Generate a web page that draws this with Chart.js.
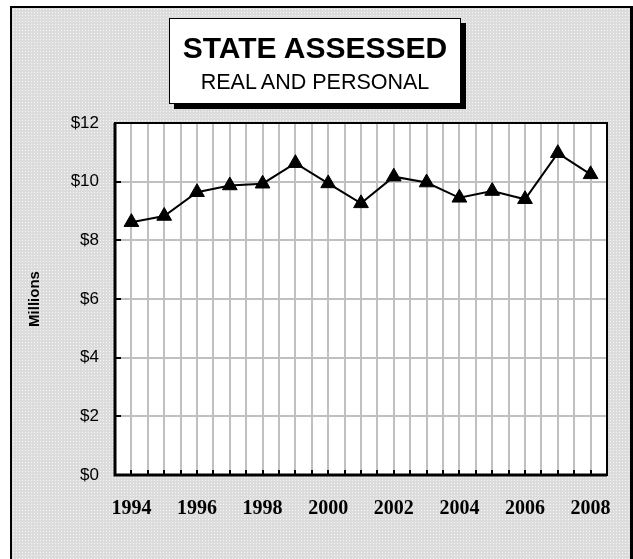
<!DOCTYPE html>
<html>
<head>
<meta charset="utf-8">
<script src="https://cdn.jsdelivr.net/npm/chart.js@4/dist/chart.umd.min.js"></script>
<style>
  html, body { margin: 0; padding: 0; background: #fff; }
  body { width: 633px; height: 559px; position: relative; overflow: hidden; }
  #frame {
    position: absolute; left: 10px; top: 6px; width: 618px; height: 570px;
    border: 2px solid #000; border-right-width: 3px;
    background: #dcdcdc radial-gradient(circle, #f6f6f6 0.7px, transparent 1px) 0 0 / 3px 3px;
  }
  #chart { position: absolute; left: 0; top: 0; }
  #titleBox {
    position: absolute; left: 169px; top: 18px; width: 290px; height: 84px;
    background: #fff; border: 1.5px solid #000; box-shadow: 5px 5px 0 #000;
    font-family: Arial, 'Liberation Sans', sans-serif; text-align: center; color: #000;
  }
  #titleBox .t1 { font-weight: bold; font-size: 30px; line-height: 30px; margin-top: 14px; }
  #titleBox .t2 { font-size: 21.5px; line-height: 22px; margin-top: 8px; }
</style>
</head>
<body>
<div id="frame"></div>
<canvas id="chart" width="633" height="559"></canvas>
<div id="titleBox">
  <div class="t1">STATE ASSESSED</div>
  <div class="t2">REAL AND PERSONAL</div>
</div>
<script>
// Datos (millones de $)
const years = [1994, 1995, 1996, 1997, 1998, 1999, 2000, 2001, 2002, 2003, 2004, 2005, 2006, 2007, 2008]
const values = [8.62, 8.83, 9.64, 9.87, 9.93, 10.63, 9.94, 9.26, 10.17, 9.97, 9.45, 9.68, 9.40, 10.97, 10.25]
const yTicks = [0, 2, 4, 6, 8, 10, 12]
const xLabels = ['1994', '1996', '1998', '2000', '2002', '2004', '2006', '2008']

// grilla vertical cada medio año (bordes y centros de categoría)
const xTickVals = []
for (let v = years[0] - 0.5; v <= years[years.length - 1] + 0.5; v += 0.5) xTickVals.push(v)

// ── Plugin: fondo blanco, borde y marcas internas ─────────────────────────
const plotFrame = {
  id: 'plotFrame',
  beforeDraw (chart) {
    const { ctx, chartArea: a } = chart
    ctx.save()
    ctx.fillStyle = '#fff'
    ctx.fillRect(a.left, a.top, a.right - a.left, a.bottom - a.top)
    ctx.restore()
  },
  afterDraw (chart) {
    const { ctx, chartArea: a, scales } = chart
    ctx.save()
    ctx.strokeStyle = '#000'
    ctx.lineWidth = 2
    ctx.beginPath()
    xTickVals.forEach(v => {
      const px = Math.round(scales.x.getPixelForValue(v))
      ctx.moveTo(px, a.bottom); ctx.lineTo(px, a.bottom - 5)
    })
    yTicks.forEach(v => {
      const py = Math.round(scales.y.getPixelForValue(v))
      ctx.moveTo(a.left, py); ctx.lineTo(a.left + 6, py)
    })
    ctx.stroke()
    ctx.strokeRect(a.left, a.top, a.right - a.left, a.bottom - a.top)
    ctx.lineWidth = 3
    ctx.beginPath()
    ctx.moveTo(a.left, a.top); ctx.lineTo(a.left, a.bottom); ctx.lineTo(a.right, a.bottom)
    ctx.stroke()
    ctx.restore()
  }
}

new Chart(document.getElementById('chart'), {
  type: 'line',
  data: {
    datasets: [{
      data: years.map((y, i) => ({ x: y, y: values[i] })),
      borderColor: '#000',
      borderWidth: 2,
      tension: 0,
      pointStyle: 'triangle',
      pointRadius: 8.5,
      pointBackgroundColor: '#000',
      pointBorderColor: '#000',
      pointBorderWidth: 1
    }]
  },
  options: {
    responsive: false,
    animation: false,
    events: [],
    layout: { padding: { top: 123, right: 26, left: 0, bottom: 0 } },
    plugins: { legend: { display: false }, tooltip: { enabled: false } },
    scales: {
      x: {
        type: 'linear',
        min: years[0] - 0.5,
        max: years[years.length - 1] + 0.5,
        afterBuildTicks: s => { s.ticks = xTickVals.map(v => ({ value: v })) },
        afterFit: s => { s.height = 84 },
        grid: { color: '#c0c0c0', lineWidth: 2, drawTicks: false },
        border: { display: false },
        ticks: {
          autoSkip: false,
          maxRotation: 0,
          padding: 22,
          color: '#000',
          font: { family: "'Times New Roman', 'Liberation Serif', serif", size: 20, weight: 'bold' },
          callback: v => xLabels.includes(String(v)) ? String(v) : ''
        }
      },
      y: {
        min: 0,
        max: 12,
        afterBuildTicks: s => { s.ticks = yTicks.map(v => ({ value: v })) },
        afterFit: s => { s.width = 115 },
        grid: { color: '#c0c0c0', lineWidth: 2, drawTicks: false },
        border: { display: false },
        ticks: {
          padding: 16,
          color: '#000',
          font: { family: "Arial, 'Liberation Sans', sans-serif", size: 17 },
          callback: v => '$' + v
        },
        title: {
          display: true,
          text: 'Millions',
          color: '#000',
          padding: { top: 26, bottom: 0 },
          font: { family: "Arial, 'Liberation Sans', sans-serif", size: 15, weight: 'bold' }
        }
      }
    }
  },
  plugins: [plotFrame]
})
</script>
</body>
</html>
